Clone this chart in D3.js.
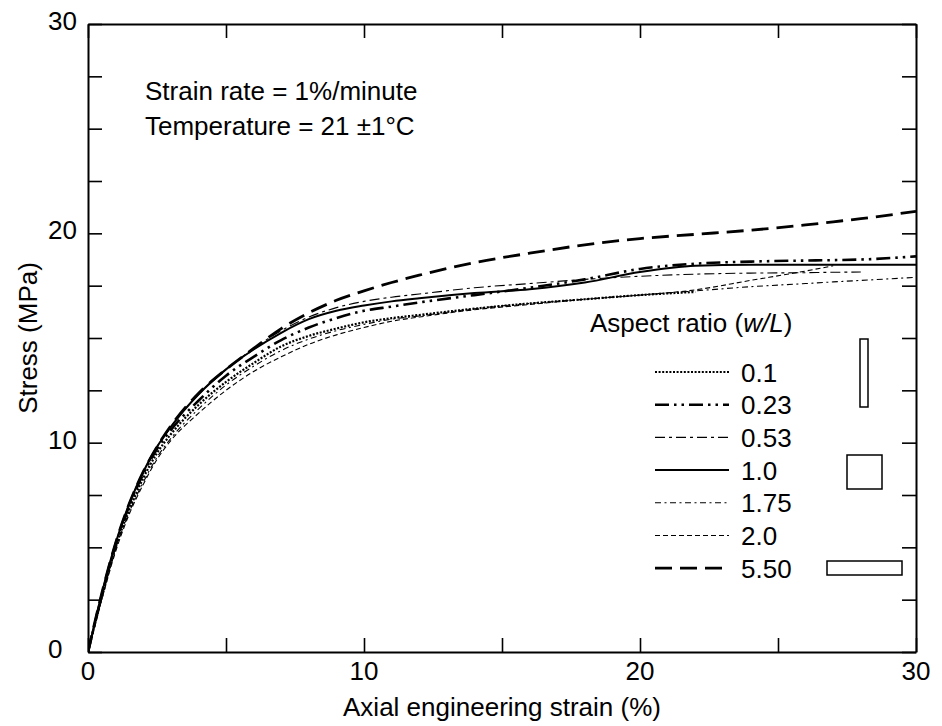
<!DOCTYPE html>
<html><head><meta charset="utf-8">
<script src="https://cdn.jsdelivr.net/npm/d3@7"></script>
<style>
body{margin:0;background:#fff;}
svg{display:block;font-family:"Liberation Sans",Arial,Helvetica,sans-serif;}
</style></head>
<body><svg id="chart" width="942" height="726"></svg>
<script>
// ---------- data ----------
const strain = [0,0.5,1,1.5,2,2.5,3,4,5,6,7,8,9,10,11,12,14,16,18,20,22,24,26,27,28,30];
const s0_1  = [0,2.6,5.0,6.8,8.3,9.5,10.4,11.8,12.9,13.8,14.6,15.1,15.45,15.75,15.95,16.1,16.4,16.65,16.85,17.05,17.2,null,null,null,null,null];
const s0_23 = [0,2.7,5.1,7.0,8.5,9.7,10.6,12.0,13.2,14.1,14.9,15.5,15.95,16.3,16.5,16.7,17.05,17.4,17.8,18.3,18.55,18.65,18.7,18.72,18.75,18.9];
const s0_53 = [0,2.8,5.2,7.1,8.6,9.8,10.75,12.3,13.5,14.5,15.35,16.0,16.45,16.75,16.95,17.1,17.4,17.6,17.8,17.95,18.05,18.1,18.12,18.14,18.15,null];
const s1_0  = [0,2.8,5.2,7.1,8.6,9.8,10.75,12.3,13.5,14.45,15.25,15.9,16.3,16.55,16.75,16.9,17.15,17.33,17.65,18.15,18.45,18.5,18.5,18.5,18.5,18.5];
const s1_75 = [0,2.6,4.9,6.7,8.1,9.3,10.2,11.6,12.75,13.65,14.4,14.95,15.35,15.65,15.9,16.05,16.4,16.65,16.85,17.05,17.25,17.45,17.6,17.68,17.75,17.9];
const s2_0  = [0,2.5,4.8,6.6,8.0,9.2,10.1,11.4,12.5,13.4,14.1,14.7,15.15,15.5,15.8,16.0,16.35,16.6,16.85,17.05,17.3,17.75,18.2,18.45,null,null];
const s5_50 = [0,2.8,5.2,7.1,8.6,9.8,10.8,12.35,13.5,14.5,15.45,16.2,16.8,17.25,17.65,18.0,18.6,19.05,19.45,19.75,19.95,20.15,20.4,20.55,20.7,21.05];
const seriesNames = ["0.1","0.23","0.53","1.0","1.75","2.0","5.50"];
const seriesValues = [s0_1,s0_23,s0_53,s1_0,s1_75,s2_0,s5_50];
const xTickLabels = [0,10,20,30];
const yTickLabels = [0,10,20,30];

// ---------- styles ----------
const styles = [
  {w:2.2, dash:"2,1.6"},
  {w:2.6, dash:"14,5,2.5,5,2.5,5"},
  {w:1.1, dash:"10,4,3,4"},
  {w:2.0, dash:null},
  {w:1.1, dash:"6,3.5,2,3.5"},
  {w:1.1, dash:"5,3"},
  {w:2.8, dash:"17,8"}
];

const svg = d3.select("#chart");
const L=88, R=916, T=24, B=652;
const x = d3.scaleLinear().domain([0,30]).range([L,R]);
const y = d3.scaleLinear().domain([0,30]).range([B,T]);
const font = 26;

// curves
const line = d3.line()
  .defined(d=>d[1]!=null)
  .x(d=>x(d[0])).y(d=>y(d[1]))
  .curve(d3.curveMonotoneX);

svg.append("clipPath").attr("id","clip").append("rect")
  .attr("x",L).attr("y",T).attr("width",R-L).attr("height",B-T);
const g = svg.append("g").attr("clip-path","url(#clip)");
seriesValues.forEach((vals,i)=>{
  const pts = strain.map((s,j)=>[s,vals[j]]);
  g.append("path").attr("d",line(pts))
    .attr("fill","none").attr("stroke","#000")
    .attr("stroke-width",styles[i].w)
    .attr("stroke-dasharray",styles[i].dash)
    .attr("stroke-linejoin","round");
});

// axes with inward ticks
const tickLen = 14;
const ax = svg.append("g");
ax.append("g").attr("transform",`translate(0,${B})`)
  .call(d3.axisBottom(x).tickValues(d3.range(0,30.01,5)).tickSizeInner(-tickLen).tickSizeOuter(0).tickFormat(""));
ax.append("g").attr("transform",`translate(0,${T})`)
  .call(d3.axisTop(x).tickValues(d3.range(0,30.01,5)).tickSizeInner(-tickLen).tickSizeOuter(0).tickFormat(""));
ax.append("g").attr("transform",`translate(${L},0)`)
  .call(d3.axisLeft(y).tickValues(d3.range(0,30.01,2.5)).tickSizeInner(-tickLen).tickSizeOuter(0).tickFormat(""));
ax.append("g").attr("transform",`translate(${R},0)`)
  .call(d3.axisRight(y).tickValues(d3.range(0,30.01,2.5)).tickSizeInner(-tickLen).tickSizeOuter(0).tickFormat(""));
ax.selectAll(".domain").attr("stroke","#000").attr("stroke-width",2);
ax.selectAll(".tick line").attr("stroke","#000").attr("stroke-width",1.6);

// tick labels
svg.append("g").selectAll("text").data(xTickLabels).join("text")
  .attr("x",d=>x(d)).attr("y",B+28).attr("text-anchor","middle")
  .attr("font-size",font).text(d=>d);
svg.append("g").selectAll("text").data(yTickLabels).join("text")
  .attr("x",48).attr("y",d=>y(d)+6).attr("text-anchor","start")
  .attr("font-size",font).text(d=>d);

// axis titles
svg.append("text").attr("x",(L+R)/2).attr("y",716).attr("text-anchor","middle")
  .attr("font-size",font).text("Axial engineering strain (%)");
svg.append("text").attr("transform",`translate(37,${(T+B)/2}) rotate(-90)`)
  .attr("text-anchor","middle").attr("font-size",font).text("Stress (MPa)");

// annotation
svg.append("text").attr("x",145).attr("y",100).attr("font-size",font).text("Strain rate = 1%/minute");
svg.append("text").attr("x",145).attr("y",135).attr("font-size",font).text("Temperature = 21 \u00b11\u00b0C");

// legend
const lt = svg.append("text").attr("x",590).attr("y",332).attr("font-size",font);
lt.append("tspan").text("Aspect ratio (");
lt.append("tspan").attr("font-style","italic").text("w/L");
lt.append("tspan").text(")");
const rowY0 = 372, rowStep = 32.7;
seriesNames.forEach((n,i)=>{
  const yy = rowY0 + i*rowStep;
  svg.append("line").attr("x1",655).attr("x2",729).attr("y1",yy).attr("y2",yy)
    .attr("stroke","#000").attr("stroke-width",styles[i].w).attr("stroke-dasharray",styles[i].dash);
  svg.append("text").attr("x",741).attr("y",yy+9.5).attr("font-size",font).text(n);
});
// specimen shape glyphs
const shapes = [
  {cx:864, cy:373, w:8, h:68},
  {cx:864.5, cy:472, w:35, h:34},
  {cx:864.5, cy:568, w:75, h:14}
];
svg.append("g").selectAll("rect").data(shapes).join("rect")
  .attr("x",d=>d.cx-d.w/2).attr("y",d=>d.cy-d.h/2).attr("width",d=>d.w).attr("height",d=>d.h)
  .attr("fill","#fff").attr("stroke","#000").attr("stroke-width",1.5);
</script></body></html>
